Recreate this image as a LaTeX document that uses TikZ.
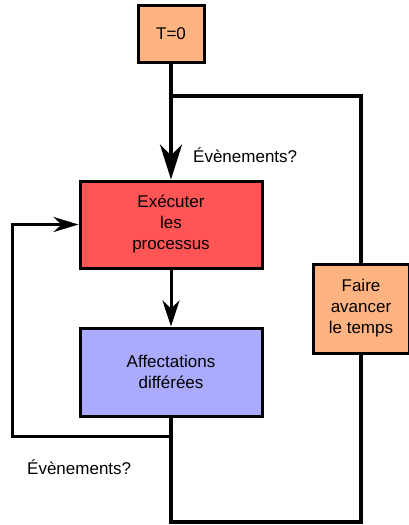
\documentclass[tikz,border=0pt]{standalone}
\usepackage{fontspec}
\setmainfont{Liberation Sans}
\usetikzlibrary{arrows.meta}
\definecolor{boxred}{RGB}{255,85,85}
\definecolor{boxblue}{RGB}{170,170,255}
\definecolor{boxorange}{RGB}{255,179,128}
\begin{document}
\begin{tikzpicture}[x=1pt,y=-1pt,
  box/.style={draw=black,line width=3pt,align=center,inner sep=0pt,
    font=\fontsize{17}{21}\selectfont},
  flow/.style={line width=4pt},
  thin flow/.style={line width=3pt},
  bigtip/.style={-{Stealth[length=35pt,width=22pt,inset=11pt]}},
  smalltip/.style={-{Stealth[length=26pt,width=17pt,inset=8pt]}},
  lbl/.style={font=\fontsize{17}{21}\selectfont,inner sep=0pt,anchor=west}]
  \useasboundingbox[fill=white] (0,0) rectangle (409,525);

  % process boxes
  \node[box,fill=boxorange,minimum width=66pt,minimum height=57pt] (t0) at (171,33.5) {T=0};
  \node[box,fill=boxred,minimum width=182pt,minimum height=87pt] (exec) at (171,224.5) {Exécuter\\les\\processus};
  \node[box,fill=boxblue,minimum width=182pt,minimum height=88pt] (aff) at (171,372) {Affectations\\différées};
  \node[box,fill=boxorange,minimum width=96pt,minimum height=89pt] (adv) at (361,308.5) {Faire\\avancer\\le temps};

  % helper points of the routing
  \coordinate (split) at (171,96);
  \coordinate (bottom) at (171,522);
  \coordinate (back) at (171,436);
  \coordinate (left) at (12,436);

  % main flow
  \draw[flow,bigtip] (t0.south) -- (exec.north);
  \draw[flow] (split) -| (adv.north);
  \draw[thin flow,smalltip] (exec.south) -- (aff.south |- aff.north);
  \draw[flow] (aff.south) -- (bottom) -| (adv.south);
  \draw[thin flow,-{Stealth[length=25pt,width=15pt,inset=8pt]}] (back) -- (left) |- (exec.west);

  % labels
  \node[lbl] (ev1) at (193,155) {Évènements?};
  \node[lbl] (ev2) at (27,467) {Évènements?};
\end{tikzpicture}
\end{document}
